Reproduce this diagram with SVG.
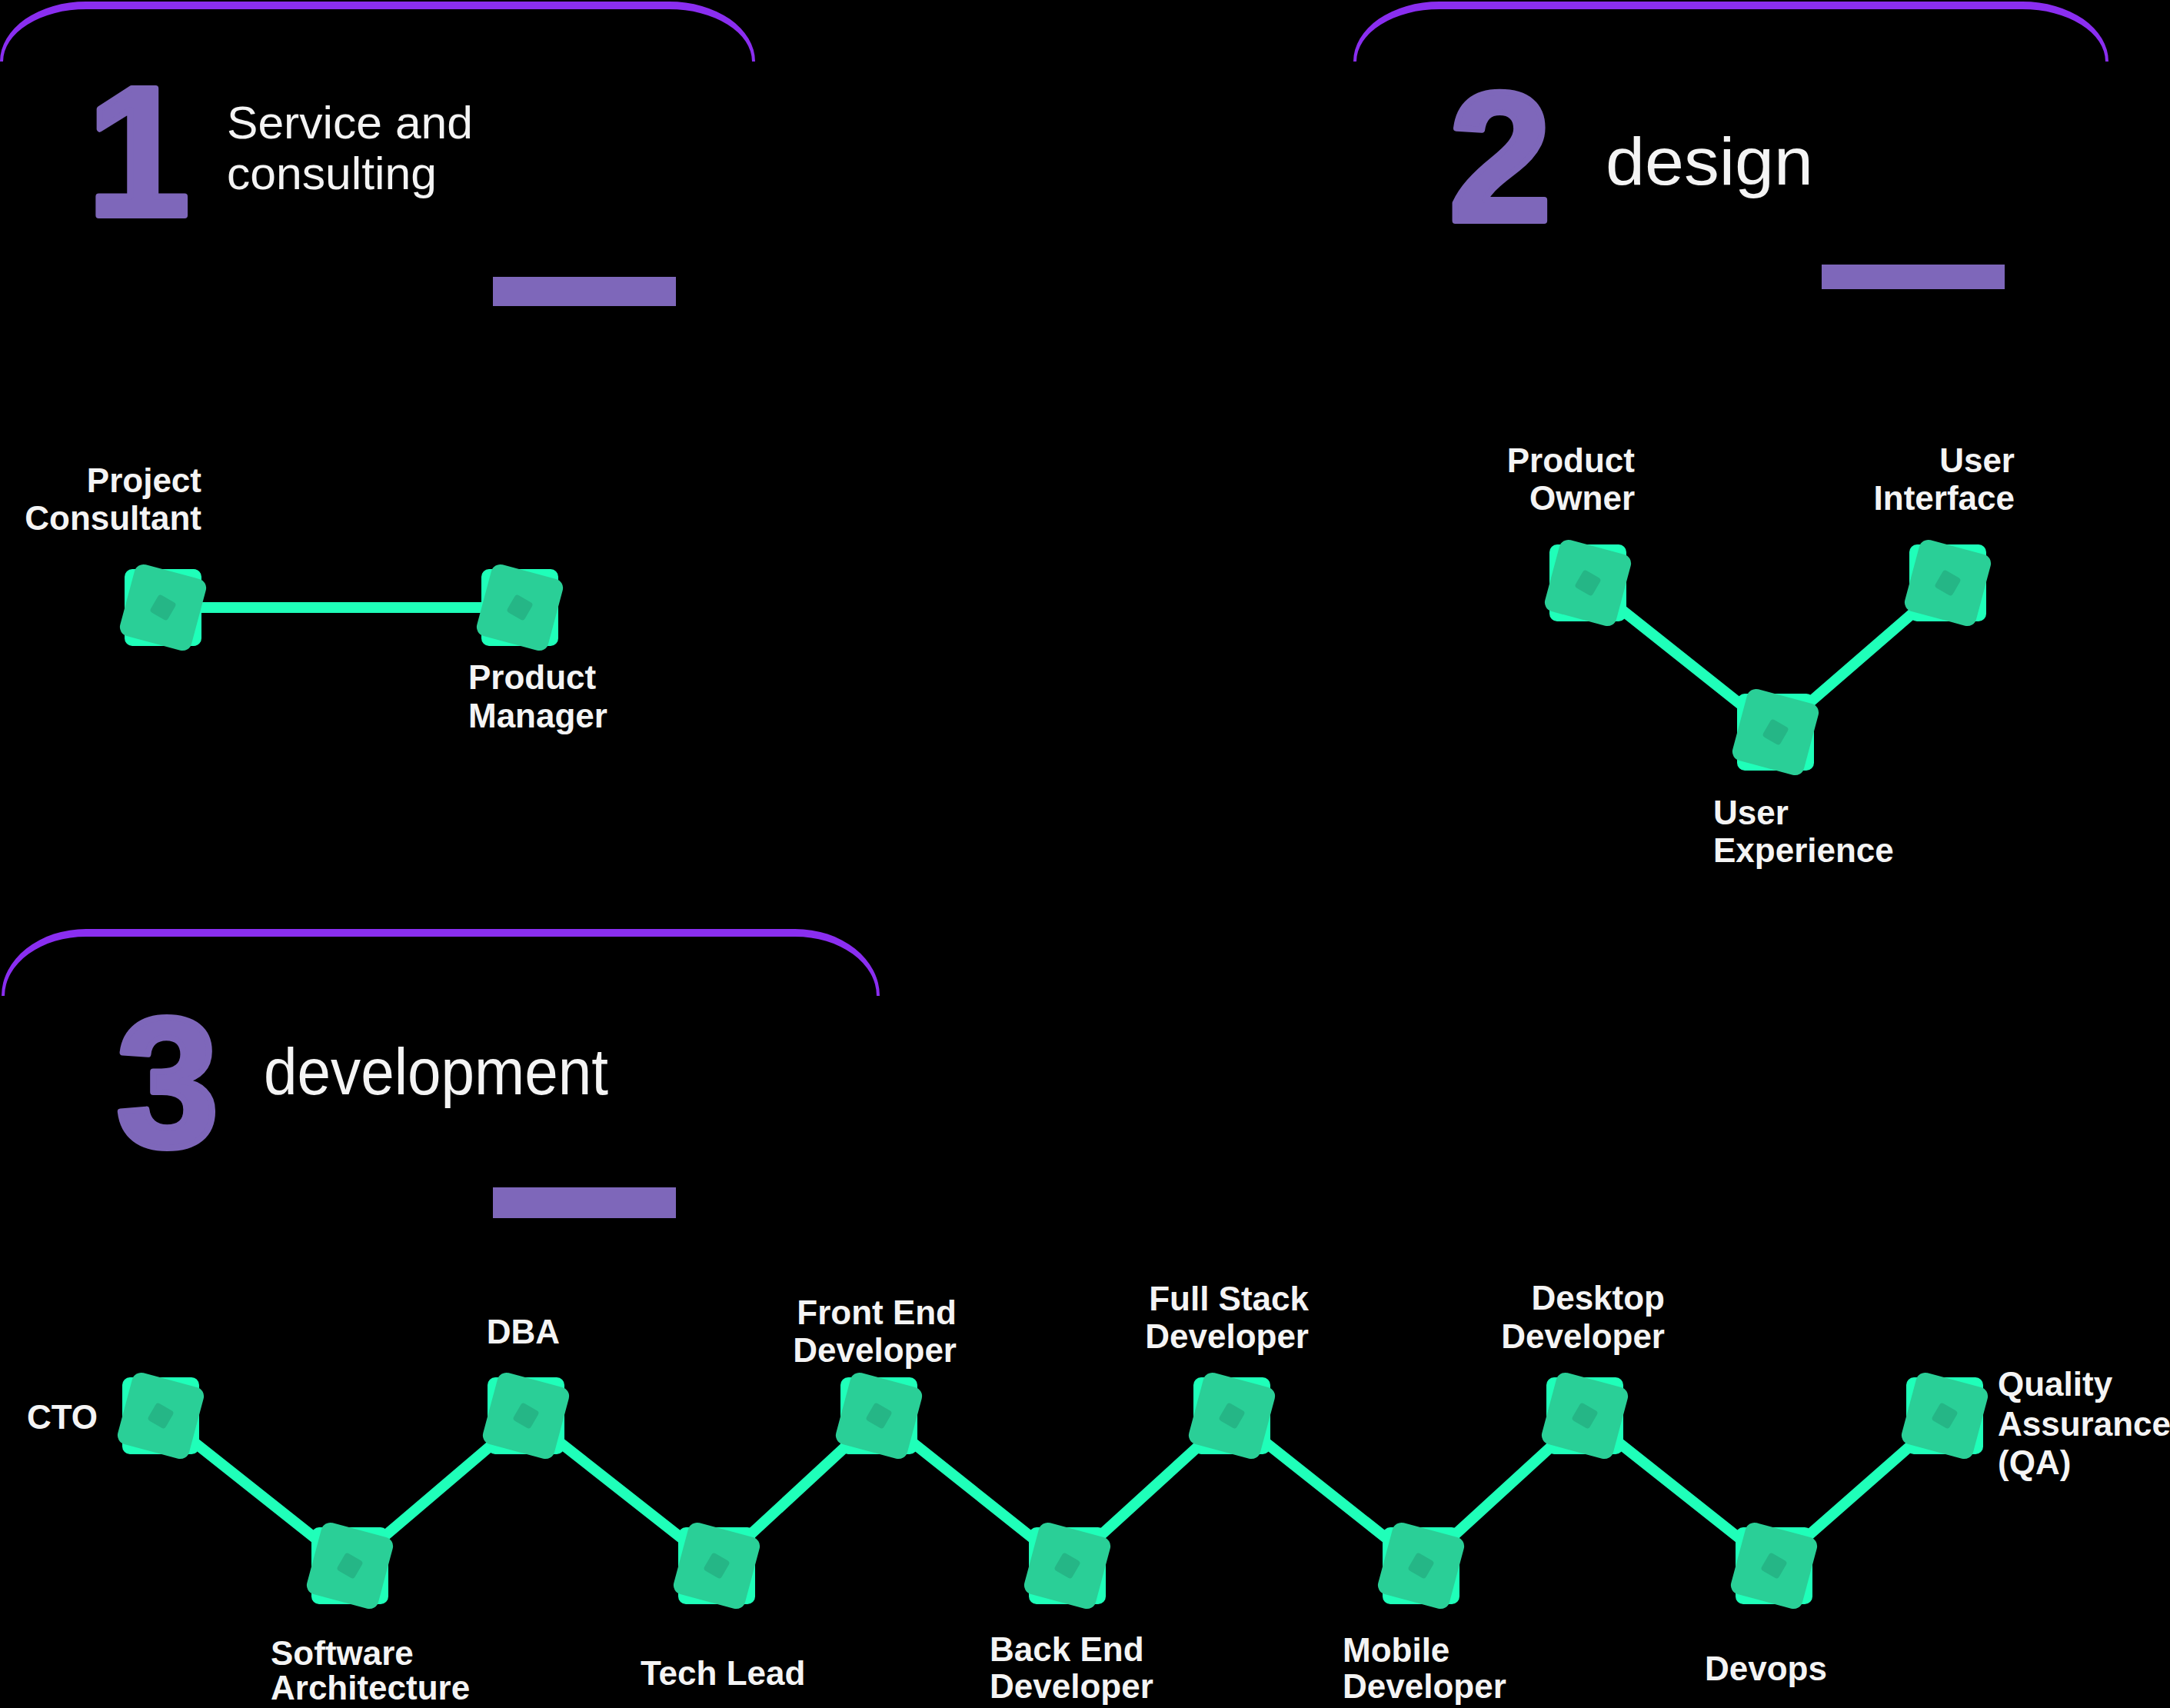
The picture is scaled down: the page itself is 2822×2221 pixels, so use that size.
<svg xmlns="http://www.w3.org/2000/svg" xmlns:xlink="http://www.w3.org/1999/xlink" width="2822" height="2221" viewBox="0 0 2822 2221">
<style>
.lbl{font-family:"Liberation Sans",Arial,sans-serif;font-weight:bold;font-size:44px;fill:#f4f4f4}
.end{text-anchor:end}
.head{font-family:"Liberation Sans",Arial,sans-serif;fill:#f4f4f4}
.digit{font-family:"Liberation Sans",Arial,sans-serif;font-weight:bold;font-size:240px;fill:#7e67ba;stroke:#7e67ba;stroke-width:8;stroke-linejoin:round;text-anchor:middle}
.arc{fill:#8a2ef0}
.bar{fill:#7e67ba}
.conn{stroke:#1fffb9;stroke-width:14;fill:none}
</style>
<defs>
<g id="nodeShape">
<rect x="-50" y="-50" width="100" height="100" rx="10" fill="#1fffb9"/>
<rect x="-48" y="-48" width="96" height="96" rx="12" fill="#2acf97" transform="rotate(15)"/>
<rect x="-13" y="-13" width="26" height="26" rx="4" fill="#25b686" transform="rotate(30)"/>
</g>
</defs>
<rect width="2822" height="2221" fill="#000"/>

<g id="section1">
<path class="arc" d="M0 80 A112 78 0 0 1 112 2 L870 2 A112 78 0 0 1 982 80 L978 80 A108 68 0 0 0 870 12 L112 12 A108 68 0 0 0 4 80 Z"/>
<text class="digit" x="180" y="280">1</text>
<text class="head" font-size="60" x="295" y="180" textLength="320" lengthAdjust="spacingAndGlyphs">Service and</text>
<text class="head" font-size="60" x="295" y="246" textLength="273" lengthAdjust="spacingAndGlyphs">consulting</text>
<rect class="bar" x="641" y="360" width="238" height="38"/>
</g>

<g id="section2">
<path class="arc" d="M1760 80 A112 78 0 0 1 1872 2 L2630 2 A112 78 0 0 1 2742 80 L2738 80 A108 68 0 0 0 2630 12 L1872 12 A108 68 0 0 0 1764 80 Z"/>
<text class="digit" x="1951" y="287">2</text>
<text class="head" font-size="88" x="2088" y="240" textLength="270" lengthAdjust="spacingAndGlyphs">design</text>
<rect class="bar" x="2369" y="344" width="238" height="32"/>
</g>

<g id="section3">
<path class="arc" d="M2 1295 A110 87 0 0 1 112 1208 L1034 1208 A110 87 0 0 1 1144 1295 L1140 1295 A106 77 0 0 0 1034 1218 L112 1218 A106 77 0 0 0 6 1295 Z"/>
<text class="digit" x="218" y="1490">3</text>
<text class="head" font-size="86" x="343" y="1423" textLength="448" lengthAdjust="spacingAndGlyphs">development</text>
<rect class="bar" x="641" y="1544" width="238" height="40"/>
</g>

<g id="connectors">
<line class="conn" x1="212" y1="790" x2="676" y2="790"/>
<polyline class="conn" points="2065,758 2309,952 2533,758"/>
<polyline class="conn" points="209,1841 455,2036 684,1841 932,2036 1143,1841 1388,2036 1602,1841 1848,2036 2061,1841 2307,2036 2529,1841"/>
</g>

<g id="node-project-consultant"><use xlink:href="#nodeShape" x="212" y="790"/>
<text class="lbl end" x="262" y="640">Project</text><text class="lbl end" x="262" y="689">Consultant</text></g>
<g id="node-product-manager"><use xlink:href="#nodeShape" x="676" y="790"/>
<text class="lbl" x="609" y="896">Product</text><text class="lbl" x="609" y="946">Manager</text></g>

<g id="node-product-owner"><use xlink:href="#nodeShape" x="2065" y="758"/>
<text class="lbl end" x="2126" y="614">Product</text><text class="lbl end" x="2126" y="663">Owner</text></g>
<g id="node-user-interface"><use xlink:href="#nodeShape" x="2533" y="758"/>
<text class="lbl end" x="2620" y="614">User</text><text class="lbl end" x="2620" y="663">Interface</text></g>
<g id="node-user-experience"><use xlink:href="#nodeShape" x="2309" y="952"/>
<text class="lbl" x="2228" y="1072">User</text><text class="lbl" x="2228" y="1121">Experience</text></g>

<g id="node-cto"><use xlink:href="#nodeShape" x="209" y="1841"/>
<text class="lbl end" x="127" y="1858">CTO</text></g>
<g id="node-software-architecture"><use xlink:href="#nodeShape" x="455" y="2036"/>
<text class="lbl" x="352" y="2165">Software</text><text class="lbl" x="352" y="2210">Architecture</text></g>
<g id="node-dba"><use xlink:href="#nodeShape" x="684" y="1841"/>
<text class="lbl end" x="728" y="1747">DBA</text></g>
<g id="node-tech-lead"><use xlink:href="#nodeShape" x="932" y="2036"/>
<text class="lbl" x="833" y="2191">Tech Lead</text></g>
<g id="node-front-end"><use xlink:href="#nodeShape" x="1143" y="1841"/>
<text class="lbl end" x="1244" y="1722">Front End</text><text class="lbl end" x="1244" y="1771">Developer</text></g>
<g id="node-back-end"><use xlink:href="#nodeShape" x="1388" y="2036"/>
<text class="lbl" x="1287" y="2160">Back End</text><text class="lbl" x="1287" y="2208">Developer</text></g>
<g id="node-full-stack"><use xlink:href="#nodeShape" x="1602" y="1841"/>
<text class="lbl end" x="1702" y="1704">Full Stack</text><text class="lbl end" x="1702" y="1753">Developer</text></g>
<g id="node-mobile"><use xlink:href="#nodeShape" x="1848" y="2036"/>
<text class="lbl" x="1746" y="2161">Mobile</text><text class="lbl" x="1746" y="2208">Developer</text></g>
<g id="node-desktop"><use xlink:href="#nodeShape" x="2061" y="1841"/>
<text class="lbl end" x="2165" y="1703">Desktop</text><text class="lbl end" x="2165" y="1753">Developer</text></g>
<g id="node-devops"><use xlink:href="#nodeShape" x="2307" y="2036"/>
<text class="lbl" x="2217" y="2185">Devops</text></g>
<g id="node-qa"><use xlink:href="#nodeShape" x="2529" y="1841"/>
<text class="lbl" x="2598" y="1815">Quality</text><text class="lbl" x="2598" y="1867" font-size="41">Assurance</text><text class="lbl" x="2598" y="1917">(QA)</text></g>
</svg>
